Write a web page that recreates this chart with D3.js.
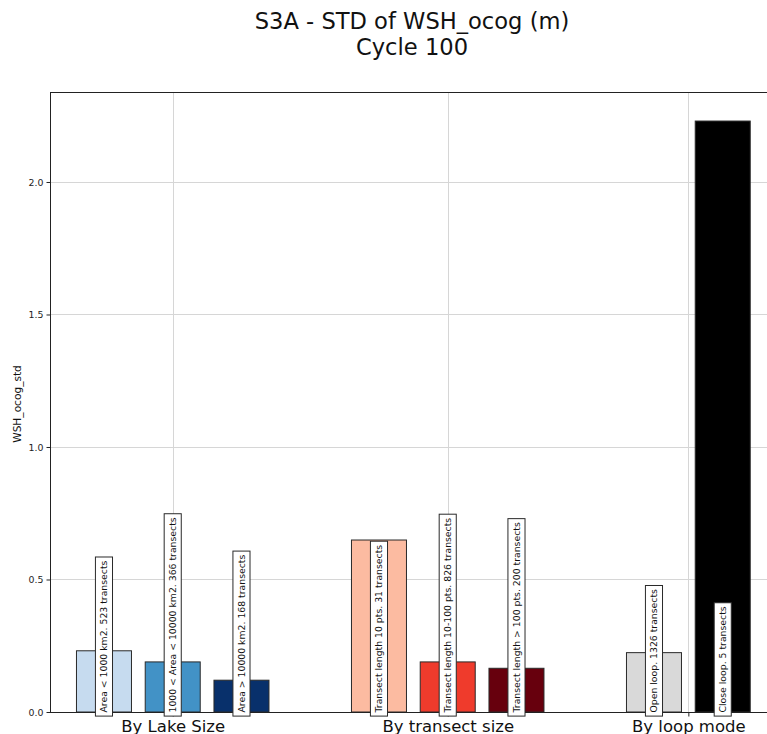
<!DOCTYPE html>
<html>
<head>
<meta charset="utf-8">
<script src="https://cdn.jsdelivr.net/npm/d3@7"></script>
<style>
  html, body { margin: 0; padding: 0; background: #fff; }
  svg { display: block; font-family: "DejaVu Sans", sans-serif; }
</style>
</head>
<body>
<svg id="chart" width="767" height="734"></svg>
<script>
// ---------------- data ----------------
const titleLines = ["S3A - STD of WSH_ocog (m)", "Cycle 100"];
const yLabel = "WSH_ocog_std";
const groupNames = ["By Lake Size", "By transect size", "By loop mode"];

const lakeSizeLabels = ["Area < 1000 km2. 523 transects", "1000 < Area < 10000 km2. 366 transects", "Area > 10000 km2. 168 transects"];
const lakeSizeValues = [0.231, 0.189, 0.120];
const lakeSizeColors = ["#c6dbef", "#4292c6", "#08306b"];

const transectLabels = ["Transect length 10 pts. 31 transects", "Transect length 10-100 pts. 826 transects", "Transect length > 100 pts. 200 transects"];
const transectValues = [0.649, 0.189, 0.165];
const transectColors = ["#fcbba1", "#ef3b2c", "#67000d"];

const loopLabels = ["Open loop. 1326 transects", "Close loop. 5 transects"];
const loopValues = [0.224, 2.23];
const loopColors = ["#d9d9d9", "#000000"];

const yTicks = [0.0, 0.5, 1.0, 1.5, 2.0];

// ---------------- build bars ----------------
const groupsData = [
  {labels: lakeSizeLabels, values: lakeSizeValues, colors: lakeSizeColors},
  {labels: transectLabels, values: transectValues, colors: transectColors},
  {labels: loopLabels, values: loopValues, colors: loopColors}
];
const bars = [];
const groupTicks = [];
let startPos = 0;
groupsData.forEach((g, gi) => {
  g.values.forEach((v, i) => bars.push({pos: startPos + i, value: v, label: g.labels[i], color: g.colors[i]}));
  groupTicks.push({pos: startPos + (g.values.length - 1) / 2, name: groupNames[gi]});
  startPos += g.values.length + 1;
});

// ---------------- layout ----------------
const svg = d3.select("#chart");
const mLeft = 50, mRight = 767, mTop = 92, mBottom = 712;
const x = d3.scaleLinear().domain([-0.785, 9.644]).range([mLeft, mRight]);
const y = d3.scaleLinear().domain([0, 2.3396]).range([mBottom, mTop]);
const barW = 0.8;

// grid
const gridColor = "#d6d6d6";
svg.append("g").selectAll("line").data(yTicks).join("line")
  .attr("x1", mLeft).attr("x2", mRight)
  .attr("y1", d => Math.round(y(d)) + 0.5).attr("y2", d => Math.round(y(d)) + 0.5)
  .attr("stroke", gridColor).attr("stroke-width", 1);
svg.append("g").selectAll("line").data(groupTicks).join("line")
  .attr("x1", d => Math.round(x(d.pos)) + 0.5).attr("x2", d => Math.round(x(d.pos)) + 0.5)
  .attr("y1", mTop).attr("y2", mBottom)
  .attr("stroke", gridColor).attr("stroke-width", 1);

// bars
svg.append("g").selectAll("rect").data(bars).join("rect")
  .attr("x", d => x(d.pos - barW / 2))
  .attr("width", d => x(d.pos + barW / 2) - x(d.pos - barW / 2))
  .attr("y", d => y(d.value))
  .attr("height", d => y(0) - y(d.value))
  .attr("fill", d => d.color)
  .attr("stroke", "#2a2a2a").attr("stroke-width", 1);

// axes
const yAxis = d3.axisLeft(y).tickValues(yTicks).tickFormat(d3.format(".1f")).tickSize(4).tickPadding(3);
const ga = svg.append("g").attr("transform", `translate(${mLeft + 0.5},0)`).call(yAxis);
ga.select(".domain").remove();
ga.selectAll("text").attr("font-size", "9.4px").attr("fill", "#222").attr("font-family", "DejaVu Sans");
ga.selectAll("line").attr("stroke", "#222");

const xAxis = d3.axisBottom(x).tickValues(groupTicks.map(d => d.pos)).tickFormat((d, i) => groupTicks[i].name).tickSize(4).tickPadding(4);
const gx = svg.append("g").attr("transform", `translate(0,${mBottom + 0.5})`).call(xAxis);
gx.select(".domain").remove();
gx.selectAll("text").attr("font-size", "16.5px").attr("fill", "#111").attr("font-family", "DejaVu Sans")
  .attr("dy", null).attr("y", 19.5);
gx.selectAll("line").attr("stroke", "#222");

// spines
svg.append("line").attr("x1", mLeft + 0.5).attr("x2", mLeft + 0.5).attr("y1", mTop).attr("y2", mBottom + 0.5).attr("stroke", "#222");
svg.append("line").attr("x1", mLeft).attr("x2", mRight).attr("y1", mTop + 0.5).attr("y2", mTop + 0.5).attr("stroke", "#222");
svg.append("line").attr("x1", mLeft).attr("x2", mRight).attr("y1", mBottom + 0.5).attr("y2", mBottom + 0.5).attr("stroke", "#222");

// bar labels (rotated boxes)
const pad = 3.6;
const fs = 9.3;
const lg = svg.append("g");
bars.forEach(d => {
  const g = lg.append("g").attr("transform", `translate(${x(d.pos)},${y(0) + 0.5}) rotate(-90)`);
  const rect = g.append("rect");
  const t = g.append("text").attr("x", 0).attr("y", 0)
    .attr("dominant-baseline", "central")
    .attr("font-size", fs + "px").attr("fill", "#111").text(d.label);
  const len = t.node().getComputedTextLength();
  const h = fs * 1.17;
  rect.attr("x", -pad).attr("y", -h / 2 - pad + 0.5).attr("width", len + 2 * pad).attr("height", h + 2 * pad - 1)
    .attr("fill", "#fff").attr("stroke", "#2a2a2a").attr("stroke-width", 1);
});

// y label
svg.append("text").attr("transform", `translate(20.5,404) rotate(-90)`)
  .attr("text-anchor", "middle").attr("font-size", "10.6px").attr("fill", "#111").text(yLabel);

// title
const cx = 412;
svg.append("text").attr("x", cx).attr("y", 28.5).attr("text-anchor", "middle")
  .attr("font-size", "22.6px").attr("fill", "#111").text(titleLines[0]);
svg.append("text").attr("x", cx).attr("y", 54.5).attr("text-anchor", "middle")
  .attr("font-size", "22.6px").attr("fill", "#111").text(titleLines[1]);
</script>
</body>
</html>
